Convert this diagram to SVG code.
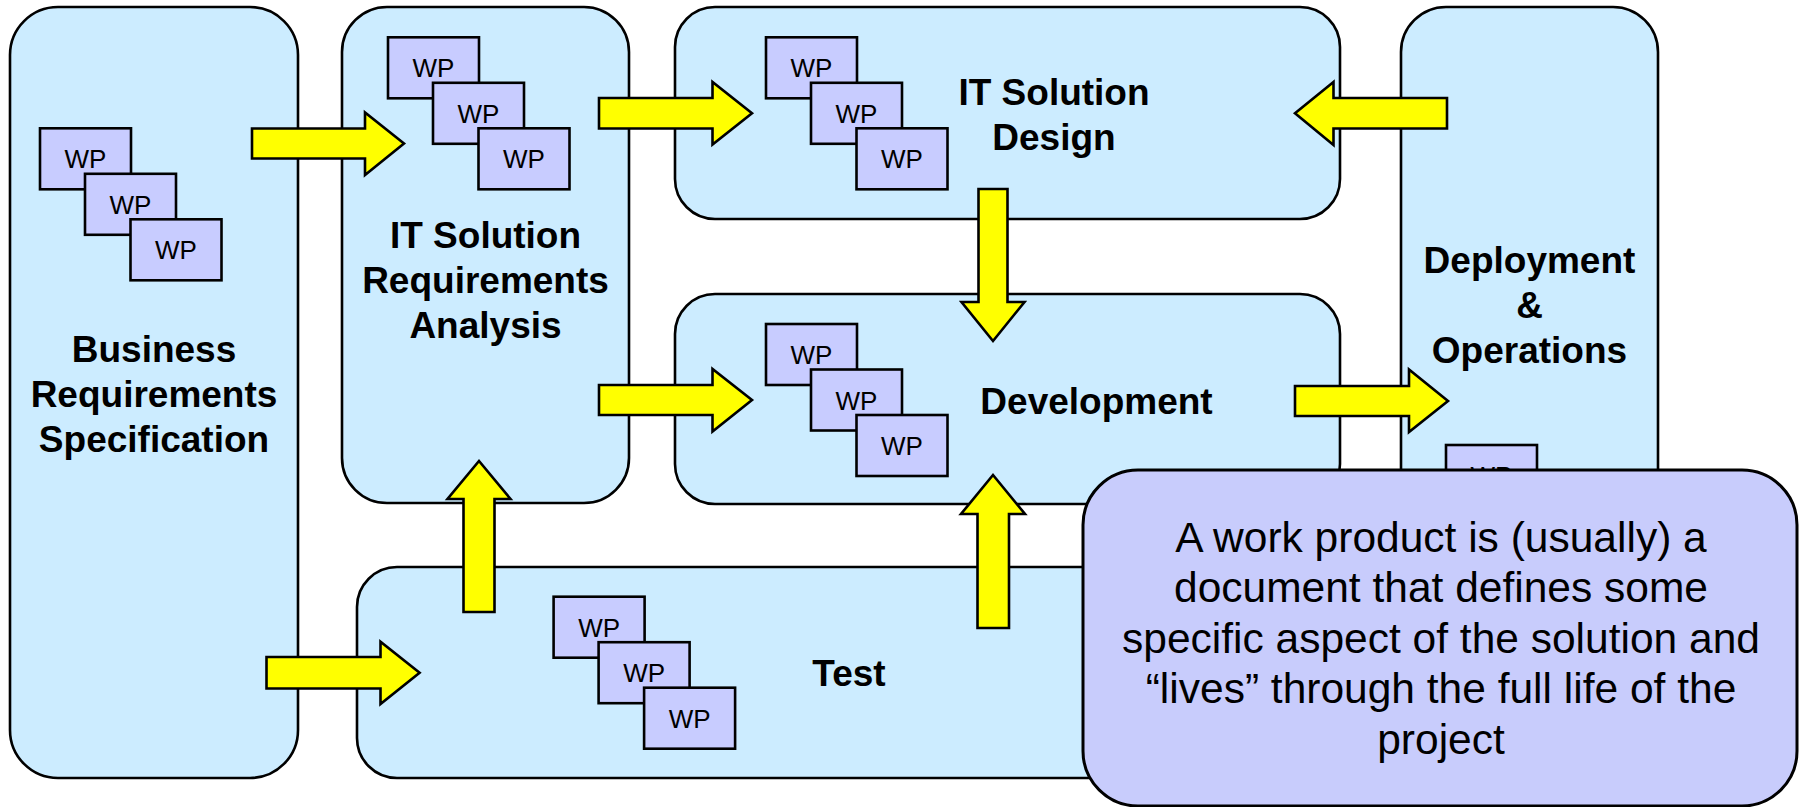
<svg xmlns="http://www.w3.org/2000/svg" width="1799" height="807" viewBox="0 0 1799 807">
<style>
.box{fill:#CCECFF;stroke:#000;stroke-width:2.6}
.wp{fill:#C8CCFF;stroke:#000;stroke-width:2.6}
.wpt{font-family:"Liberation Sans",Arial,sans-serif;font-size:26px;fill:#000;text-anchor:middle}
.lbl{font-family:"Liberation Sans",Arial,sans-serif;font-size:37px;font-weight:bold;fill:#000;text-anchor:middle}
.arr{fill:#FFFF00;stroke:#000;stroke-width:2.6;stroke-linejoin:miter}
.call{fill:#C8CCFC;stroke:#000;stroke-width:3}
.ct{font-family:"Liberation Sans",Arial,sans-serif;font-size:42.5px;fill:#000;text-anchor:middle}
</style>
<defs>
<g id="wpbox">
<rect class="wp" x="0" y="0" width="91" height="61"/>
<text class="wpt" x="45.5" y="40">WP</text>
</g>
<g id="wpstack">
<use href="#wpbox" x="0" y="0"/>
<use href="#wpbox" x="45" y="45.5"/>
<use href="#wpbox" x="90.5" y="91"/>
</g>
</defs>
<rect width="1799" height="807" fill="#FFFFFF"/>

<g id="node-business">
<rect class="box" x="10" y="7" width="288" height="771" rx="48" ry="48"/>
<use href="#wpstack" x="40" y="128.3"/>
<text class="lbl" x="154" y="362">Business</text>
<text class="lbl" x="154" y="407">Requirements</text>
<text class="lbl" x="154" y="452">Specification</text>
</g>

<g id="node-itreq">
<rect class="box" x="342" y="7" width="287" height="496" rx="45" ry="45"/>
<use href="#wpstack" x="388" y="37.3"/>
<text class="lbl" x="485.5" y="248">IT Solution</text>
<text class="lbl" x="485.5" y="293">Requirements</text>
<text class="lbl" x="485.5" y="338">Analysis</text>
</g>

<g id="node-test">
<rect class="box" x="357" y="567" width="983" height="211" rx="40" ry="40"/>
<use href="#wpstack" x="553.6" y="596.7"/>
<text class="lbl" x="849" y="686">Test</text>
</g>

<g id="node-design">
<rect class="box" x="675" y="7" width="665" height="212" rx="40" ry="40"/>
<use href="#wpstack" x="766" y="37.3"/>
<text class="lbl" x="1054" y="104.5">IT Solution</text>
<text class="lbl" x="1054" y="149.5">Design</text>
</g>

<g id="node-development">
<rect class="box" x="675" y="294" width="665" height="210" rx="40" ry="40"/>
<use href="#wpstack" x="766" y="324"/>
<text class="lbl" x="1096.5" y="414">Development</text>
</g>

<g id="node-deployment">
<rect class="box" x="1401" y="7" width="257" height="771" rx="45" ry="45"/>
<use href="#wpbox" x="1446" y="445"/>
<text class="lbl" x="1529.5" y="273">Deployment</text>
<text class="lbl" x="1529.5" y="318">&amp;</text>
<text class="lbl" x="1529.5" y="363">Operations</text>
</g>

<g id="connectors">
<polygon class="arr" points="252,128.5 365,128.5 365,112.5 404,143.5 365,175 365,158.5 252,158.5"/>
<polygon class="arr" points="599,98 712.5,98 712.5,82 752,113.3 712.5,144.5 712.5,128.5 599,128.5"/>
<polygon class="arr" points="599,385 712.5,385 712.5,369 752,400 712.5,431.5 712.5,415 599,415"/>
<polygon class="arr" points="978.5,189 1007.5,189 1007.5,302 1024.5,302 993,341 961.5,302 978.5,302"/>
<polygon class="arr" points="1447,98 1333.5,98 1333.5,82 1295,113.3 1333.5,145 1333.5,128.5 1447,128.5"/>
<polygon class="arr" points="1295,386 1409,386 1409,369.5 1448,401 1409,432 1409,416 1295,416"/>
<polygon class="arr" points="463.5,612 494.5,612 494.5,499 510.5,499 479,461 447.5,499 463.5,499"/>
<polygon class="arr" points="266.5,657 380.5,657 380.5,641.7 419.6,672.7 380.5,704 380.5,688.5 266.5,688.5"/>
<polygon class="arr" points="977.5,628 1009,628 1009,514 1025,514 993,475 961,514 977.5,514"/>
</g>

<g id="node-callout">
<rect class="call" x="1083" y="470" width="714" height="336" rx="55" ry="55"/>
<text class="ct" x="1441" y="551.7">A work product is (usually) a</text>
<text class="ct" x="1441" y="602">document that defines some</text>
<text class="ct" x="1441" y="652.5">specific aspect of the solution and</text>
<text class="ct" x="1441" y="703">“lives” through the full life of the</text>
<text class="ct" x="1441" y="753.5">project</text>
</g>
</svg>
